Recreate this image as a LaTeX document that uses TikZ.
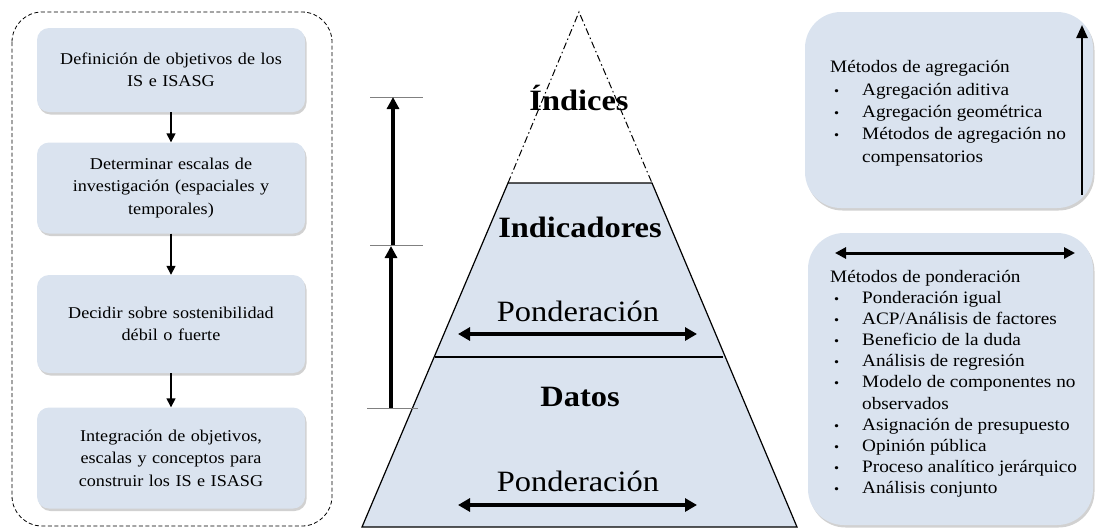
\documentclass[tikz,border=0pt]{standalone}
\usepackage{fontspec}
\setmainfont{Liberation Serif}[FakeStretch=1.1]
\usetikzlibrary{arrows.meta,shadows}
\definecolor{boxfill}{HTML}{DAE3EF}
\newcommand\steptextstyle{\fontsize{16.5}{22.5}\selectfont}
\newcommand\methtextstyle{\fontsize{17.5}{22.3}\selectfont}
\newcommand\pyrtextstyle{\fontsize{29.5}{32}\selectfont}
\newcommand\stepwidth{268pt}
\newcommand\methhead[1]{\multicolumn{2}{@{}l@{}}{#1}}
\newcommand\methbullet{{\fontsize{13}{13}\selectfont\textbullet}}
\tikzset{
  boxshadow/.style={drop shadow={shadow xshift=1.5pt, shadow yshift=-2.5pt, opacity=.3, fill=black!60}},
  stepbox/.style={fill=boxfill, rounded corners=12pt, boxshadow, minimum width=\stepwidth,
    text width=250pt, align=center, font=\steptextstyle},
  stepline/.style={line width=1.5pt, -{Triangle[length=9pt,width=9pt]}},
  methbox/.style={fill=boxfill, rounded corners=36pt, boxshadow},
  methtext/.style={anchor=north west, inner sep=0pt, font=\methtextstyle, align=left},
  pondline/.style={line width=3.5pt, {Triangle[length=12pt,width=13pt]}-{Triangle[length=12pt,width=13pt]}},
  levelline/.style={line width=4pt, -{Triangle[length=12pt,width=12pt]}},
  tickline/.style={gray, line width=.8pt},
}

\begin{document}
\begin{tikzpicture}[x=1pt,y=-1pt]
    \useasboundingbox (0,0) rectangle (1095,531);
    \draw[rounded corners=30pt, line width=.8pt, dash pattern=on 4pt off 2.5pt] (12,12) rectangle (332,526);
    \node[stepbox, minimum height=84pt] (obj) at (171,70) {Definición de objetivos de los\\IS e ISASG};
    \node[stepbox, minimum height=91pt] (esc) at (171,188) {Determinar escalas de\\investigación (espaciales y\\temporales)};
    \node[stepbox, minimum height=98pt] (sos) at (171,324) {Decidir sobre sostenibilidad\\débil o fuerte};
    \node[stepbox, minimum height=101pt] (integ) at (171,458) {Integración de objetivos,\\escalas y conceptos para\\construir los IS e ISASG};
    \draw[stepline] (obj) -- (esc);
    \draw[stepline] (esc) -- (sos);
    \draw[stepline] (sos) -- (integ);

    \coordinate (apex) at (579,12);
    \coordinate (tl) at (508,183);
    \coordinate (tr) at (652,183);
    \coordinate (ml) at (435,357);
    \coordinate (mr) at (723,357);
    \coordinate (bl) at (362,527);
    \coordinate (br) at (797,527);
    \fill[boxfill] (tl) -- (tr) -- (br) -- (bl) -- cycle;
    \draw[line width=1.2pt] (tl) -- (tr) -- (br) -- (bl) -- cycle;
    \draw[line width=1.2pt] (ml) -- (mr);
    \draw[line width=1pt, dash pattern=on 7pt off 3pt on 1.5pt off 3pt] (tl) -- (apex) -- (tr);
    \node[font=\pyrtextstyle\bfseries] (idxlabel) at (579,98) {Índices};
    \node[font=\pyrtextstyle\bfseries] (indlabel) at (580,227) {Indicadores};
    \node[font=\pyrtextstyle] (pondup) at (578,311) {Ponderación};
    \node[font=\pyrtextstyle\bfseries] (datlabel) at (580,397) {Datos};
    \node[font=\pyrtextstyle] (ponddown) at (578,481) {Ponderación};
    \coordinate (pul) at (458,334);
    \coordinate (pur) at (697,334);
    \coordinate (pdl) at (458,505);
    \coordinate (pdr) at (697,505);
    \draw[pondline] (pul) -- (pur);
    \draw[pondline] (pdl) -- (pdr);

    \draw[tickline] (370,97) -- (423,97);
    \draw[tickline] (370,245) -- (423,245);
    \draw[tickline] (367,408) -- (418,408);
    \coordinate (lvonetop) at (393,97);
    \coordinate (lvonebot) at (393,245);
    \coordinate (lvtwotop) at (391,246);
    \coordinate (lvtwobot) at (391,408);
    \draw[levelline] (lvonebot) -- (lvonetop);
    \draw[levelline] (lvtwobot) -- (lvtwotop);

    \node[methbox, minimum width=288pt, minimum height=196pt] (aggbox) at (949,110) {};
    \node[methtext] (aggtext) at (830,57) {\begin{tabular}{@{\hspace{4pt}}p{28pt}@{}l@{}}
      \methhead{Métodos de agregación}\\
      \methbullet & Agregación aditiva\\
      \methbullet & Agregación geométrica\\
      \methbullet & Métodos de agregación no\\
                  & compensatorios
    \end{tabular}};
    \coordinate (aggbot) at (1082,195);
    \coordinate (aggtop) at (1082,25);
    \draw[line width=2.5pt, -{Triangle[length=13pt,width=11pt]}] (aggbot) -- (aggtop);

    \node[methbox, minimum width=285pt, minimum height=292pt] (pondbox) at (950.5,379) {};
    \node[methtext] (pondtext) at (830,267) {\def\arraystretch{.95}\begin{tabular}{@{\hspace{4pt}}p{28pt}@{}l@{}}
      \methhead{Métodos de ponderación}\\
      \methbullet & Ponderación igual\\
      \methbullet & ACP/Análisis de factores\\
      \methbullet & Beneficio de la duda\\
      \methbullet & Análisis de regresión\\
      \methbullet & Modelo de componentes no\\
                  & observados\\
      \methbullet & Asignación de presupuesto\\
      \methbullet & Opinión pública\\
      \methbullet & Proceso analítico jerárquico\\
      \methbullet & Análisis conjunto
    \end{tabular}};
    \coordinate (pondl) at (835,253);
    \coordinate (pondr) at (1075,253);
    \draw[line width=3pt, {Triangle[length=11pt,width=11pt]}-{Triangle[length=11pt,width=11pt]}] (pondl) -- (pondr);
\end{tikzpicture}
\end{document}
